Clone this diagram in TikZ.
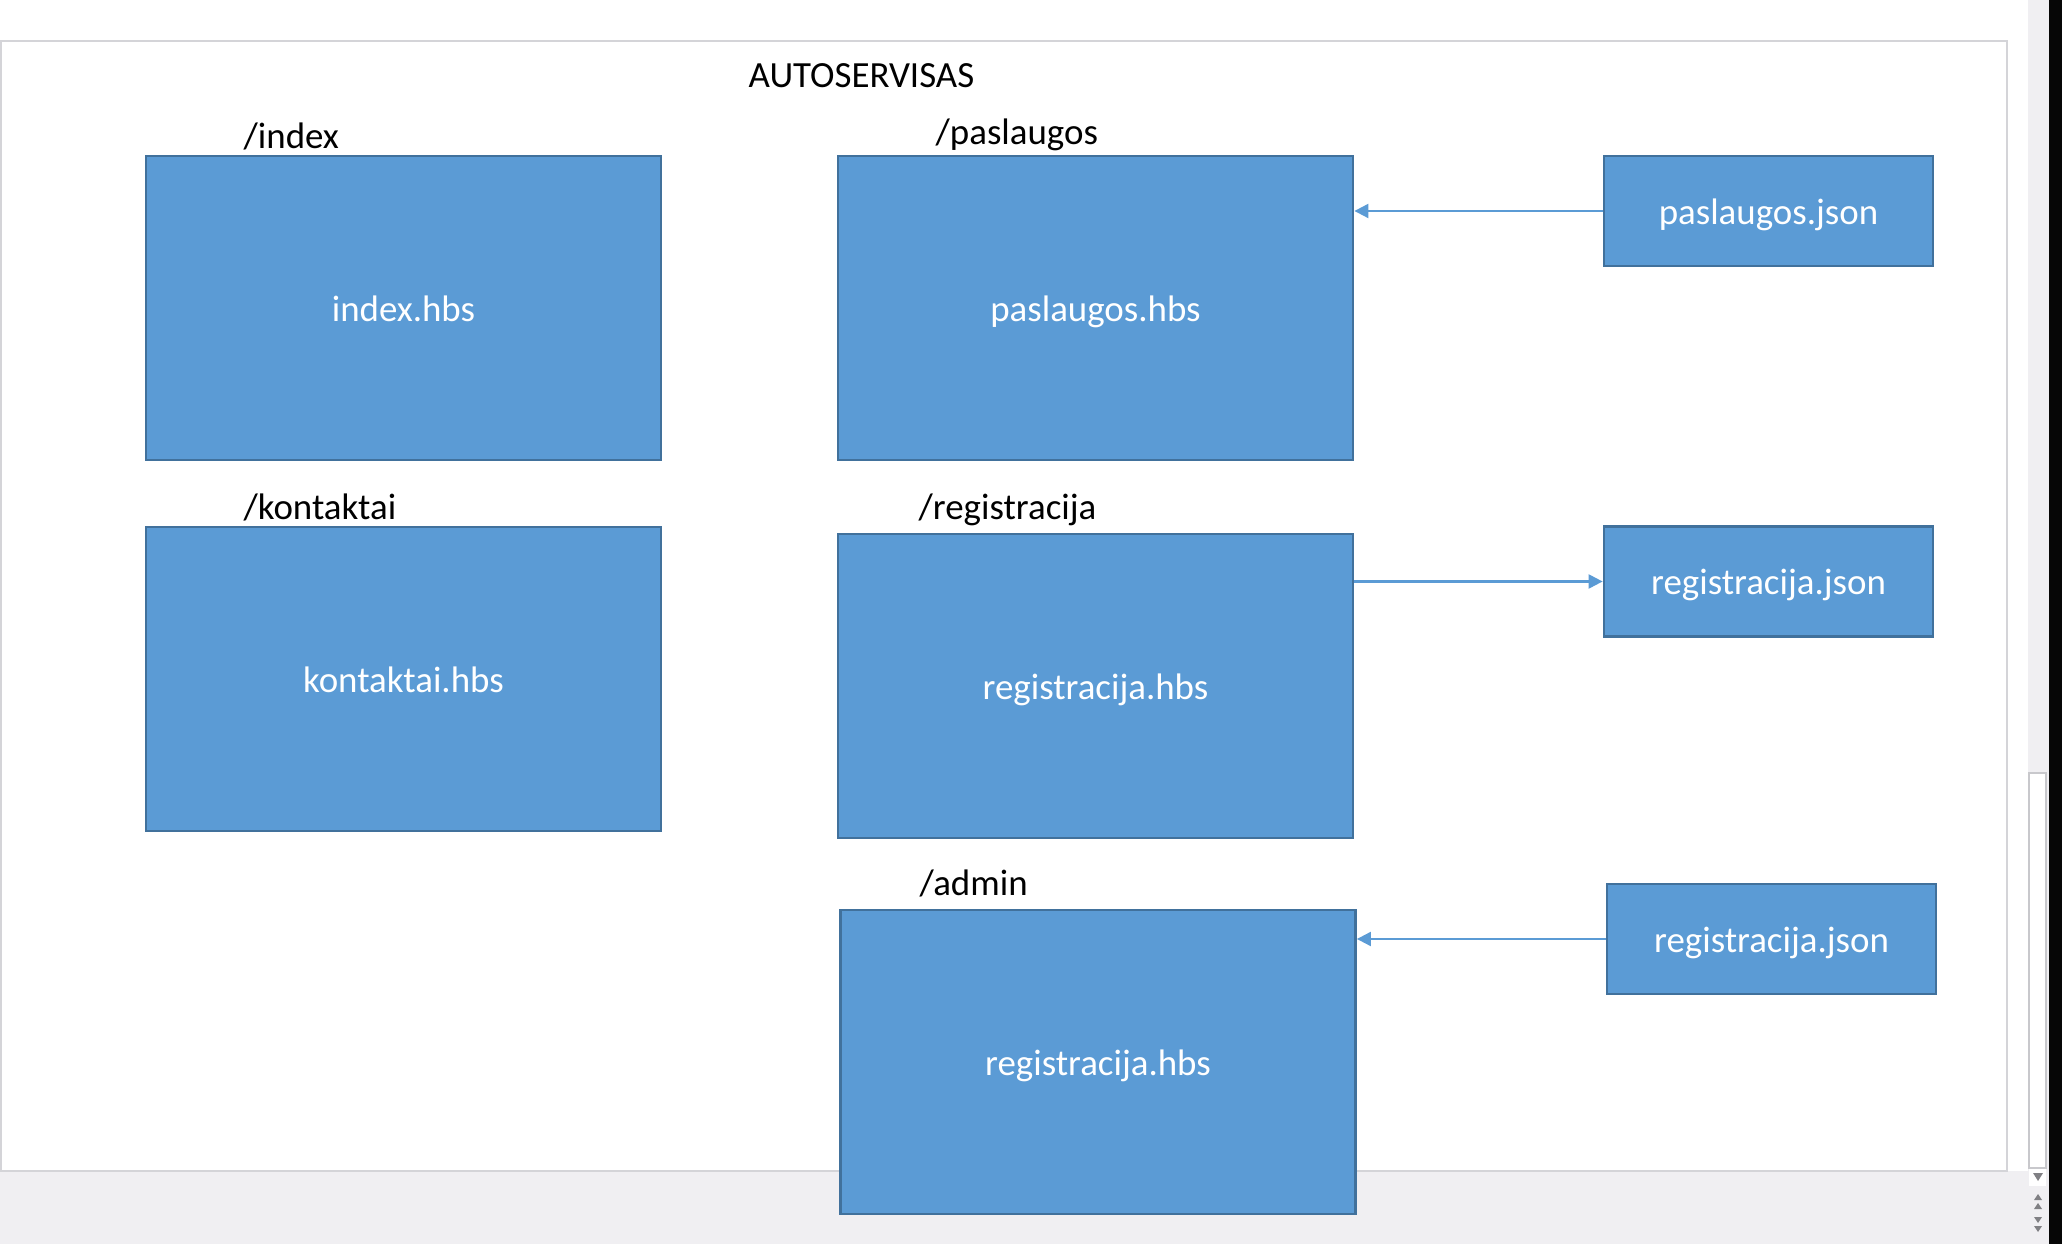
\documentclass[tikz,border=0pt]{standalone}
\usepackage{fontspec}
\setmainfont{Carlito}
\usepackage{tikz}
\usetikzlibrary{arrows.meta}
\definecolor{boxfill}{HTML}{5B9BD5}
\definecolor{boxline}{HTML}{41719C}
\definecolor{uigray}{HTML}{F0EFF2}
\definecolor{slideline}{HTML}{D4D4D8}
\definecolor{thumbline}{HTML}{C8C8CC}
\definecolor{btngray}{HTML}{808084}
\definecolor{frameedge}{HTML}{060606}

\begin{document}
\begin{tikzpicture}[every node/.style={font=\fontsize{10.5}{12.6}\selectfont},
    hbs/.style={draw=boxline, line width=0.8pt, fill=boxfill, text=white,
        minimum width=5.15cm, minimum height=3.04cm, inner sep=0pt,
        text height=0.95em, text depth=0.2em},
    json/.style={hbs, minimum width=3.29cm, minimum height=1.10cm},
    route/.style={anchor=base west, inner sep=0pt},
    link/.style={boxfill, line width=0.6pt, -{Triangle[length=1.4mm, width=1.4mm]}}]
    \useasboundingbox (0,0) rectangle (20.62,12.44);

    % langas aplink skaidre
    \fill[white] (0,0) rectangle (20.62,12.44);
    \fill[uigray] (0,0) rectangle (20.49,0.73);
    \fill[uigray] (20.28,0) rectangle (20.49,12.44);
    \draw[slideline, fill=white] (0.01,0.73) rectangle (20.07,12.03);
    \draw[thumbline, fill=white] (20.29,0.76) rectangle (20.46,4.71);
    \fill[frameedge] (20.49,0) rectangle (20.62,12.44);
    % slinkties mygtukai
    \fill[white] (20.29,0.58) rectangle (20.46,0.75);
    \fill[btngray] (20.33,0.71) -- (20.43,0.71) -- (20.38,0.63) -- cycle;
    \foreach \y in {0.35,0.44} \fill[btngray] (20.34,\y) -- (20.42,\y) -- (20.38,\y+0.06) -- cycle;
    \foreach \y in {0.12,0.21} \fill[btngray] (20.34,\y+0.06) -- (20.42,\y+0.06) -- (20.38,\y) -- cycle;

    \node[route] (titl) at (7.48, 11.56) {AUTOSERVISAS};

    % puslapiai
    \node[route] (rindex) at (2.43, 10.95) {/index};
    \node[hbs] (index) at (4.035, 9.36) {index.hbs};

    \node[route] (rpasl) at (9.35, 10.99) {/paslaugos};
    \node[hbs] (pasl) at (10.955, 9.36) {paslaugos.hbs};
    \node[json] (pasljs) at (17.685, 10.33) {paslaugos.json};

    \node[route] (rkont) at (2.43, 7.245) {/kontaktai};
    \node[hbs] (kont) at (4.035, 5.65) {kontaktai.hbs};

    \node[route] (rreg) at (9.18, 7.245) {/registracija};
    \node[hbs] (reg) at (10.955, 5.58) {registracija.hbs};
    \node[json] (regjs) at (17.685, 6.625) {registracija.json};

    \node[route] (radm) at (9.19, 3.49) {/admin};
    \node[hbs] (adm) at (10.98, 1.82) {registracija.hbs};
    \node[json] (admjs) at (17.715, 3.05) {registracija.json};

    % duomenu srautai
    \draw[link] (pasljs.west) -- (pasljs.west -| pasl.east);
    \draw[link] (regjs.west -| reg.east) -- (regjs.west);
    \draw[link] (admjs.west) -- (admjs.west -| adm.east);
\end{tikzpicture}
\end{document}
